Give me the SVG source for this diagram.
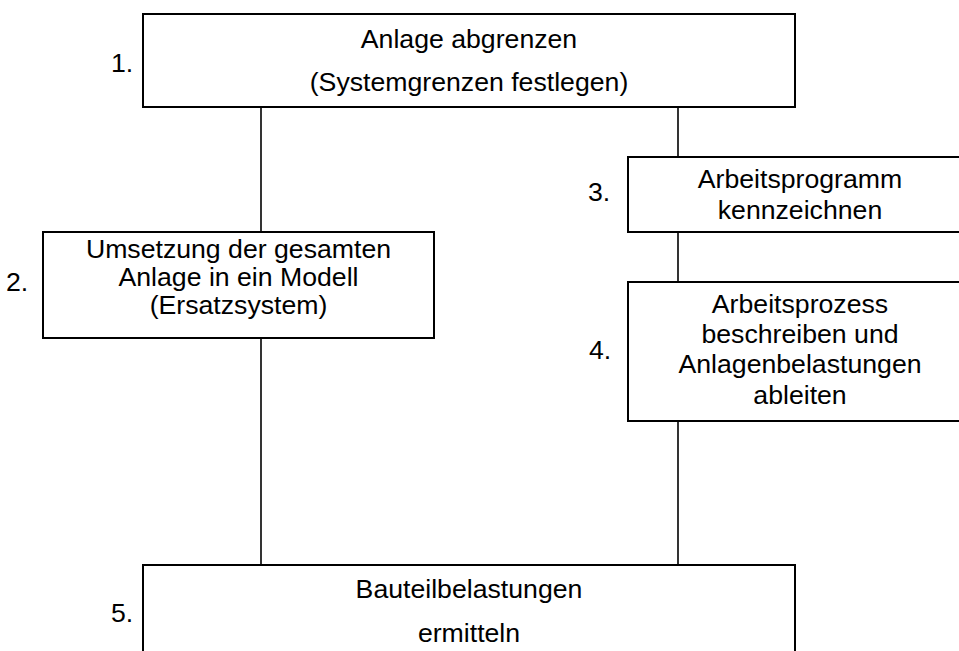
<svg xmlns="http://www.w3.org/2000/svg" width="959" height="651" viewBox="0 0 959 651">
<style>
.box{fill:#fff;stroke:#000;stroke-width:2}
.t{font-family:"Liberation Sans",Arial,sans-serif;font-size:26.67px;fill:#000;text-anchor:middle}
.n{font-family:"Liberation Sans",Arial,sans-serif;font-size:26.67px;fill:#000}
.c{stroke:#000;stroke-width:1.6;fill:none}
</style>
<rect width="959" height="651" fill="#fff"/>
<g id="connectors">
<line class="c" x1="261" y1="107" x2="261" y2="232"/>
<line class="c" x1="261" y1="338" x2="261" y2="565"/>
<line class="c" x1="678" y1="107" x2="678" y2="157"/>
<line class="c" x1="678" y1="232" x2="678" y2="282"/>
<line class="c" x1="678" y1="421" x2="678" y2="565"/>
</g>
<g id="node1">
<rect class="box" x="143" y="14" width="652" height="93"/>
<text class="t" x="469" y="48">Anlage abgrenzen</text>
<text class="t" x="469" y="91">(Systemgrenzen festlegen)</text>
<text class="n" x="111" y="72">1.</text>
</g>
<g id="node2">
<rect class="box" x="43" y="232" width="391" height="106"/>
<text class="t" x="238.5" y="258">Umsetzung der gesamten</text>
<text class="t" x="238.5" y="286">Anlage in ein Modell</text>
<text class="t" x="238.5" y="314">(Ersatzsystem)</text>
<text class="n" x="6" y="291">2.</text>
</g>
<g id="node3">
<rect class="box" x="628" y="157" width="344" height="75"/>
<text class="t" x="800" y="188">Arbeitsprogramm</text>
<text class="t" x="800" y="219">kennzeichnen</text>
<text class="n" x="588" y="201">3.</text>
</g>
<g id="node4">
<rect class="box" x="628" y="282" width="344" height="139"/>
<text class="t" x="800" y="313">Arbeitsprozess</text>
<text class="t" x="800" y="343">beschreiben und</text>
<text class="t" x="800" y="373">Anlagenbelastungen</text>
<text class="t" x="800" y="404">ableiten</text>
<text class="n" x="589" y="359">4.</text>
</g>
<g id="node5">
<rect class="box" x="143" y="565" width="652" height="100"/>
<text class="t" x="469" y="598">Bauteilbelastungen</text>
<text class="t" x="469" y="642">ermitteln</text>
<text class="n" x="111" y="622">5.</text>
</g>
</svg>
